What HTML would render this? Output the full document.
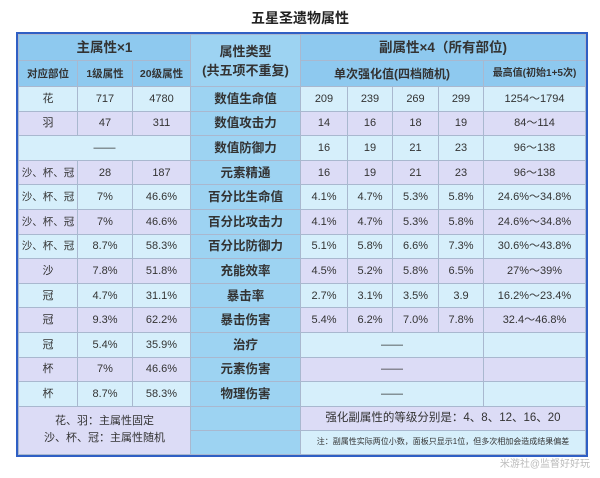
<!DOCTYPE html>
<html><head><meta charset="utf-8"><style>
body{margin:0;width:600px;height:478px;background:#fff;font-family:"Liberation Sans","Noto Sans CJK SC",sans-serif;position:relative;overflow:hidden}
.title{position:absolute;top:8px;left:0;width:600px;text-align:center;font-size:14px;font-weight:bold;color:#222}
.wrap{position:absolute;left:16px;top:32px;border:2px solid #2f5fc4}
table{border-collapse:collapse;table-layout:fixed;font-size:11px;color:#333}
td{border:1px solid #a9b8cf;text-align:center;padding:0;height:23.6px;line-height:14px;white-space:nowrap;overflow:hidden}
.h{background:#8ec9ef;font-weight:bold;color:#333}
.h1{font-size:13.5px;height:25px}
.h2{font-size:10.5px;height:25px}
.t{background:#9dd3f2;font-weight:bold;font-size:12.5px}
.c td{background:#d6effb}
.l td{background:#dcdcf6}
.c td.t,.l td.t{background:#9dd3f2}
.f{background:#dcdcf6;font-size:11px;line-height:17px}
.fc{background:#d6effb}
.s{font-size:10.5px}
</style></head><body>
<div class="title">五星圣遗物属性</div>
<div class="wrap"><table>
<colgroup><col style="width:59px"><col style="width:55px"><col style="width:58px"><col style="width:110px"><col style="width:47px"><col style="width:45px"><col style="width:46px"><col style="width:45px"><col style="width:102px"></colgroup>
<tr><td class="h h1" colspan="3">主属性×1</td><td class="h t" rowspan="2" style="font-size:13px;line-height:19px">属性类型<br>(共五项不重复)</td><td class="h h1" colspan="5">副属性×4（所有部位)</td></tr>
<tr><td class="h h2">对应部位</td><td class="h h2">1级属性</td><td class="h h2">20级属性</td><td class="h h2" colspan="4" style="font-size:12px">单次强化值(四档随机)</td><td class="h h2" style="font-size:10px">最高值(初始1+5次)</td></tr>
<tr class="c"><td>花</td><td>717</td><td>4780</td><td class="t">数值生命值</td><td>209</td><td>239</td><td>269</td><td>299</td><td>1254～1794</td></tr>
<tr class="l"><td>羽</td><td>47</td><td>311</td><td class="t">数值攻击力</td><td>14</td><td>16</td><td>18</td><td>19</td><td>84～114</td></tr>
<tr class="c"><td colspan="3">——</td><td class="t">数值防御力</td><td>16</td><td>19</td><td>21</td><td>23</td><td>96～138</td></tr>
<tr class="l"><td class="s">沙、杯、冠</td><td>28</td><td>187</td><td class="t">元素精通</td><td>16</td><td>19</td><td>21</td><td>23</td><td>96～138</td></tr>
<tr class="c"><td class="s">沙、杯、冠</td><td>7%</td><td>46.6%</td><td class="t">百分比生命值</td><td>4.1%</td><td>4.7%</td><td>5.3%</td><td>5.8%</td><td>24.6%～34.8%</td></tr>
<tr class="l"><td class="s">沙、杯、冠</td><td>7%</td><td>46.6%</td><td class="t">百分比攻击力</td><td>4.1%</td><td>4.7%</td><td>5.3%</td><td>5.8%</td><td>24.6%～34.8%</td></tr>
<tr class="c"><td class="s">沙、杯、冠</td><td>8.7%</td><td>58.3%</td><td class="t">百分比防御力</td><td>5.1%</td><td>5.8%</td><td>6.6%</td><td>7.3%</td><td>30.6%～43.8%</td></tr>
<tr class="l"><td>沙</td><td>7.8%</td><td>51.8%</td><td class="t">充能效率</td><td>4.5%</td><td>5.2%</td><td>5.8%</td><td>6.5%</td><td>27%～39%</td></tr>
<tr class="c"><td>冠</td><td>4.7%</td><td>31.1%</td><td class="t">暴击率</td><td>2.7%</td><td>3.1%</td><td>3.5%</td><td>3.9</td><td>16.2%～23.4%</td></tr>
<tr class="l"><td>冠</td><td>9.3%</td><td>62.2%</td><td class="t">暴击伤害</td><td>5.4%</td><td>6.2%</td><td>7.0%</td><td>7.8%</td><td>32.4～46.8%</td></tr>
<tr class="c"><td>冠</td><td>5.4%</td><td>35.9%</td><td class="t">治疗</td><td colspan="4">——</td><td></td></tr>
<tr class="l"><td>杯</td><td>7%</td><td>46.6%</td><td class="t">元素伤害</td><td colspan="4">——</td><td></td></tr>
<tr class="c"><td>杯</td><td>8.7%</td><td>58.3%</td><td class="t">物理伤害</td><td colspan="4">——</td><td></td></tr>
<tr><td class="f" colspan="3" rowspan="2">花、羽：主属性固定<br>沙、杯、冠：主属性随机</td><td class="t" style="height:23px"></td><td class="f" colspan="5" style="font-size:11.5px;height:23px">强化副属性的等级分别是：4、8、12、16、20</td></tr>
<tr><td class="t" style="height:23px"></td><td class="fc" colspan="5" style="font-size:8px;height:23px">注：副属性实际两位小数，面板只显示1位，但多次相加会造成结果偏差</td></tr>
</table></div>
<div style="position:absolute;right:10px;top:455px;font-size:10px;color:#bbb">米游社@监督好好玩</div>
</body></html>
